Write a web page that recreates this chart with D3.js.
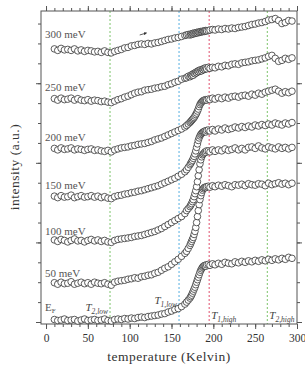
<!DOCTYPE html>
<html>
<head>
<meta charset="utf-8">
<script src="https://cdn.jsdelivr.net/npm/d3@7/dist/d3.min.js"></script>
<style>
body { margin: 0; background: #fff; }
svg { display: block; }
</style>
</head>
<body>
<script>
var width = 305
var height = 365
var serif = "'Liberation Serif', 'Times New Roman', serif"

// temperature grid (K), denser across the transition
var temps = [10,14,18,22,26,30,34,38,42,46, 50,54,58,62,66,70,74,78,82,86,
  90,94,98,102,106,110,114,118,122,126, 130,134,138,142,146,150,154,158,162,166,
  168,170,172,173,174,175,176,177,178,179, 180,181,182,183,184,185,186,187,188,189,
  190,191,192,194,196,
  199,202,206,210,214,218,222,226,230,234, 238,242,246,250,254,258,262,266,270,274,
  278,282,286,290,294]

var seriesLabels = ["EF", "50 meV", "100 meV", "150 meV", "200 meV", "250 meV", "300 meV"]
var labelAt = [11, 45.2, 87.4, 133.7, 182, 232, 285.4]

var ef = [2.5,1.5,2,3,1.5,2,2.5,1,2,3, 1.5,2,2.5,1.5,2,3,1.5,1,2.5,3,
  2.5,3.5,3,4,3.5,4.5,5,4.5,5.5,6, 6.5,7,8,8.5,10,11,12.5,13.5,15.5,18,
  20,22,24,25.5,27,29,31,33,35,37.5, 40,42.5,45,47.5,50,52,53.5,55,56,56.5,
  57,56,57.5,58,57,
  58.5,57.5,59,58,60,59,58.5,60.5,59.5,61, 60,61.5,60.5,62,61,62.5,61.5,63,62,63.5,
  62.5,64,63,65,64]

var mev50 = [39.5,38,40,38.5,39,40.5,38,39,40,38.5, 39.5,38,40,39,38.5,39.5,38,37,40,41,
  41.5,42,43,43.5,44.5,44,45.5,46,47,47.5, 49,50,52,54,55.5,58,60.5,63,66,69,
  71,74,77,79,81,83,85,88,91,95, 100,106,112,118,123,127,130,132.5,134,135,
  135.5,135,136,136.5,135.5,
  137,136,137.5,136.5,138,137,136,138,137.5,138.5, 137,139,138,137.5,139,138.5,137,139.5,138,139,
  140,138.5,139.5,138,139.5]

var mev100 = [82.5,81,83,82,80.5,82,83.5,81.5,82,80.5, 82,83,81.5,82.5,81,82,80.5,80,82,83,
  83.5,84,84.5,85,86,86.5,87,88,89,90, 91,92.5,94,96,98,100,102,104,106,109,
  112,114,116,117.5,119,121,123,126,129,132, 136,141,147,153,159,163,166,168,169,170,
  171,170.5,172,172,171,
  173,171.5,173,172,174,172.5,173.5,175,173,174.5, 173,175.5,176,174.5,177,175,174,176,175,174,
  176,174.5,175.5,174,175.5]

var mev150 = [126.5,125,127,125.5,126,127.5,125,126,127,125.5, 126,127,125.5,126.5,125,126,124.5,124,126,127,
  127.5,128.5,129,130,130.5,131.5,132,133,134,135, 136,137,138.5,140,141.5,143,144.5,146.5,148.5,151,
  153,155.5,158,159.5,161,162.5,164.5,166.5,169,172, 175.5,179,182.5,185,187,188.5,189.5,190.5,191,191.5,
  192,191,192.5,193,192,
  193.5,192,194,193,195,193.5,194.5,196,195,196.5, 195.5,197,196,198,197,198.5,197.5,199,198,200,
  199,198,200,199,200.5]

var mev200 = [174.5,173,175,173.5,174,175,173,174,173.5,172.5, 173.5,174,172.5,173,172,171.5,172.5,171,173,174,
  175,175.5,176,177,177.5,178.5,179,179.5,180.5,181.5, 183,184,185,186.5,188,189.5,191,192.5,194,196,
  197.5,199,200.5,201.5,202.5,203.5,204.5,205.5,207,208.5, 210,212,214,216.5,218.5,220,221,222,222.5,223,
  223,223.5,223,224,223.5,
  225,224,225.5,224.5,226,225,226.5,227,226,227.5, 228,227,229,228,230,229,231,232,233,234,
  232,230,231.5,230.5,232]

var mev250 = [224.5,223,225,223.5,224,225,223,224.5,223,222.5, 223.5,222,223,222.5,221.5,222,221,220.5,222,223.5,
  224.5,226,227,228.5,230,231,231.5,233,233.5,234, 235,235.5,236.5,237,238.5,239.5,241,242,244,245,
  245.5,247,246.5,248,247.5,249,248,250,249.5,251, 250.5,252,251.5,253,252,253.5,252.5,254,253.5,255,
  254,255.5,254.5,256,255,
  256,255.5,257,256.5,258,257.5,259,259.5,259,260.5, 261,261.5,262.5,263,263.5,264.5,265.5,267,268,265,
  262,263,265,264,265.5]

var mev300 = [274.5,273,275,273.5,274,273,274.5,272.5,273.5,272, 273,272.5,271.5,272,271,272.5,271,270.5,272,273,
  274,275.5,276,277.5,278,279,279.5,279,280,279.5, 280.5,281,282,283,284,284.5,285.5,286,287,288,
  288.5,289,288.5,289.5,289,290,289.5,290.5,290,290.5, 291,290.5,291.5,291,291.5,292,291.5,292,292.5,292,
  292.5,293,292.5,293,293.5,
  294,293.5,294.5,294,295,294.5,295.5,295,296,296.5, 297,298,299,299.5,300.5,301,302,303.5,304,305,
  303,300,301,303,302.5]

var allSeries = [ef, mev50, mev100, mev150, mev200, mev250, mev300]

// characteristic temperatures
var markerTemps = [76.5, 159, 195, 264.5]
var markerSubs = ["2,low", "1,low", "1,high", "2,high"]
var markerColors = ["#7cc46a", "#55aee0", "#e0506e", "#7cc46a"]

var xTicks = [0, 50, 100, 150, 200, 250, 300]
var xMinor = d3.range(0, 301, 10)
var yMinor = d3.range(0, 301, 20)
var yMajor = [0, 80, 160, 240]

// little arrow over the 300 meV trace
var arrowFrom = [112, 288.5]
var arrowTo = [120, 290.5]

var x = d3.scaleLinear().domain([-6, 300]).range([41, 297])
var y = d3.scaleLinear().domain([-2, 312.6]).range([324, 11])

var svg = d3.select("body").append("svg")
    .attr("width", width)
    .attr("height", height)
    .attr("font-family", serif)

var axisColor = "#555"

// dashed marker lines
svg.selectAll("line.marker").data(markerTemps).enter()
    .append("line")
    .attr("class", "marker")
    .attr("x1", function(d){ return x(d) })
    .attr("x2", function(d){ return x(d) })
    .attr("y1", y.range()[1])
    .attr("y2", y.range()[0])
    .attr("stroke", function(d, i){ return markerColors[i] })
    .attr("stroke-width", 1)
    .attr("stroke-dasharray", "2,2")

function styleAxis(g) {
  g.select(".domain").remove()
  g.selectAll(".tick line").attr("stroke", axisColor)
  g.selectAll("text").attr("fill", "#333").attr("font-size", "11.5px")
    .attr("font-family", serif)
}

svg.append("g").attr("transform", "translate(0,324)")
    .call(d3.axisBottom(x).tickValues(xMinor).tickSize(3).tickFormat(""))
    .call(styleAxis)
svg.append("g").attr("transform", "translate(0,324)")
    .call(d3.axisBottom(x).tickValues(xTicks).tickSize(5).tickPadding(5))
    .call(styleAxis)
svg.append("g").attr("transform", "translate(0,11)")
    .call(d3.axisTop(x).tickValues(xMinor).tickSize(3).tickFormat(""))
    .call(styleAxis)
svg.append("g").attr("transform", "translate(0,11)")
    .call(d3.axisTop(x).tickValues(xTicks).tickSize(5).tickFormat(""))
    .call(styleAxis)
svg.append("g").attr("transform", "translate(41,0)")
    .call(d3.axisLeft(y).tickValues(yMinor).tickSize(3).tickFormat(""))
    .call(styleAxis)
svg.append("g").attr("transform", "translate(41,0)")
    .call(d3.axisLeft(y).tickValues(yMajor).tickSize(5).tickFormat(""))
    .call(styleAxis)
svg.append("g").attr("transform", "translate(297,0)")
    .call(d3.axisRight(y).tickValues(yMinor).tickSize(3).tickFormat(""))
    .call(styleAxis)
svg.append("g").attr("transform", "translate(297,0)")
    .call(d3.axisRight(y).tickValues(yMajor).tickSize(5).tickFormat(""))
    .call(styleAxis)

svg.append("rect")
    .attr("x", 41).attr("y", 11)
    .attr("width", 256).attr("height", 313)
    .attr("fill", "none")
    .attr("stroke", axisColor)
    .attr("stroke-width", 1)

// data points
allSeries.forEach(function(vals){
  svg.append("g").selectAll("circle").data(vals).enter()
      .append("circle")
      .attr("cx", function(d, i){ return x(temps[i]) })
      .attr("cy", function(d){ return y(d) })
      .attr("r", 3.3)
      .attr("fill", "#fff")
      .attr("stroke", "#333")
      .attr("stroke-width", 0.8)
})

// series labels
seriesLabels.forEach(function(name, i){
  var t = svg.append("text")
      .attr("x", 45)
      .attr("y", y(labelAt[i]))
      .attr("font-size", "11px")
      .attr("font-family", serif)
      .attr("fill", "#555")
  if (name == "EF") {
    t.append("tspan").text("E")
    t.append("tspan").attr("font-size", "7px").attr("dy", 2).text("F")
  } else {
    t.text(name)
  }
})

// marker labels
var markerLabelPos = [
  {anchor: "end", dx: -2, y: 311},
  {anchor: "end", dx: -2, y: 304},
  {anchor: "start", dx: 2, y: 319},
  {anchor: "start", dx: 2, y: 319}
]
markerTemps.forEach(function(d, i){
  var p = markerLabelPos[i]
  var t = svg.append("text")
      .attr("x", x(d) + p.dx)
      .attr("y", p.y)
      .attr("text-anchor", p.anchor)
      .attr("font-size", "11px")
      .attr("font-family", serif)
      .attr("font-style", "italic")
      .attr("fill", "#444")
  t.append("tspan").text("T")
  t.append("tspan").attr("font-size", "7.5px").attr("dy", 2.5).text(markerSubs[i])
})

// arrow
svg.append("defs").append("marker")
    .attr("id", "head")
    .attr("viewBox", "0 0 10 10")
    .attr("refX", 8).attr("refY", 5)
    .attr("markerWidth", 4).attr("markerHeight", 4)
    .attr("orient", "auto")
  .append("path")
    .attr("d", "M0,0L10,5L0,10z")
    .attr("fill", "#333")
svg.append("line")
    .attr("x1", x(arrowFrom[0])).attr("y1", y(arrowFrom[1]))
    .attr("x2", x(arrowTo[0])).attr("y2", y(arrowTo[1]))
    .attr("stroke", "#333")
    .attr("stroke-width", 0.8)
    .attr("marker-end", "url(#head)")

// axis titles
svg.append("text")
    .attr("x", 169).attr("y", 361)
    .attr("text-anchor", "middle")
    .attr("font-size", "13.5px")
    .attr("font-family", serif)
    .attr("letter-spacing", "0.5px")
    .attr("fill", "#333")
    .text("temperature (Kelvin)")

svg.append("text")
    .attr("transform", "translate(19,167) rotate(-90)")
    .attr("text-anchor", "middle")
    .attr("font-size", "13.5px")
    .attr("font-family", serif)
    .attr("letter-spacing", "0.5px")
    .attr("fill", "#333")
    .text("intensity (a.u.)")
</script>
</body>
</html>
